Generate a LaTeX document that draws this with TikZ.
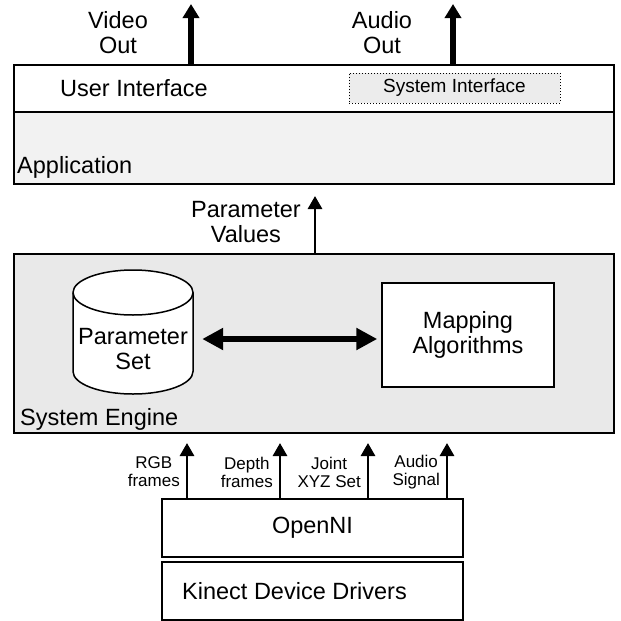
\documentclass[tikz,border=0pt]{standalone}
\usepackage{fontspec}
\setmainfont{Liberation Sans}
\usetikzlibrary{arrows.meta}
\newcommand{\bigfont}{\fontsize{23.5}{25}\selectfont}
\newcommand{\midfont}{\fontsize{19}{21}\selectfont}
\newcommand{\smallfont}{\fontsize{17}{18}\selectfont}
\definecolor{appgray}{HTML}{F2F2F2}
\definecolor{enginegray}{HTML}{E9E9E9}
\definecolor{sysgray}{HTML}{ECECEC}
\begin{document}
\begin{tikzpicture}[x=1pt,y=-1pt,
  layer/.style={draw,line width=2.8pt,minimum width=600pt,inner sep=0pt},
  driverbox/.style={draw,line width=1.6pt,minimum width=301pt,minimum height=58pt,inner sep=0pt},
  lbl/.style={font=\bigfont,inner sep=0pt,align=center},
  small/.style={font=\smallfont,inner sep=0pt,align=center},
  outarrow/.style={line width=5.5pt,-{Triangle[width=16pt,length=14pt]}},
  dataarrow/.style={line width=2.8pt,-{Triangle[width=14pt,length=13pt]}},
  linkarrow/.style={line width=5.5pt,{Triangle[width=21pt,length=21pt]}-{Triangle[width=21pt,length=21pt]}}]
\useasboundingbox (0,0) rectangle (621,621);

\node[layer,minimum height=47pt] (ui) at (314,88.5) {};
\node[layer,fill=appgray,minimum height=72pt] (app) at (314,148) {};
\node[lbl,anchor=base west] (uitext) at (60,96) {User Interface};
\node[draw,dotted,line width=1pt,fill=sysgray,minimum width=211pt,minimum height=30pt,font=\midfont,inner sep=0pt] (sysif) at (454.5,88) {System Interface};
\node[lbl,anchor=base west] (apptext) at (17,173) {Application};

\coordinate (vidout) at (191,4);
\coordinate (audout) at (453,4);
\draw[outarrow] (ui.north -| vidout) -- (vidout);
\draw[outarrow] (ui.north -| audout) -- (audout);
\node[lbl] (vidlbl) at (118,33) {Video\\Out};
\node[lbl] (audlbl) at (382,33) {Audio\\Out};

\node[layer,fill=enginegray,minimum height=179pt] (engine) at (314,343.5) {};
\node[lbl,anchor=base west] (enginetext) at (20,425) {System Engine};
\coordinate (paramout) at (315,196);
\draw[dataarrow] (engine.north -| paramout) -- (paramout);
\node[lbl,anchor=east] (paramlbl) at (301,222) {Parameter\\Values};

\draw[line width=1.5pt,fill=white] (73,292.5) -- (73,371.5)
  arc[start angle=180,end angle=0,x radius=60,y radius=22.5] -- (193,292.5)
  arc[start angle=0,end angle=-180,x radius=60,y radius=22.5] -- cycle;
\draw[line width=1.5pt] (73,292.5) arc[start angle=180,end angle=0,x radius=60,y radius=22.5];
\node[lbl,minimum width=120pt] (pset) at (133,349) {Parameter\\Set};
\node[draw,fill=white,line width=1.5pt,minimum width=172pt,minimum height=104pt,lbl] (mapping) at (468,335) {Mapping\\Algorithms};
\coordinate (linky) at (0,339);
\draw[linkarrow,shorten <=9pt,shorten >=4pt] (pset.east |- linky) -- (mapping.west |- linky);

\node[driverbox,lbl] (openni) at (312.5,528) {OpenNI};
\node[driverbox] (kinect) at (312.5,591) {};
\node[lbl,anchor=base west] (kinecttext) at (182,599) {Kinect Device Drivers};

\foreach \x/\name/\txt in {187/rgb/{RGB\\frames},280/depth/{Depth\\frames},368/joint/{Joint\\XYZ Set},447/audio/{Audio\\Signal}}{
  \coordinate (\name) at (\x,443);
  \draw[dataarrow] (openni.north -| \name) -- (\name);
  \node[small,anchor=east] (\name lbl) at (\x-7,472) {\txt};
}
\end{tikzpicture}
\end{document}
